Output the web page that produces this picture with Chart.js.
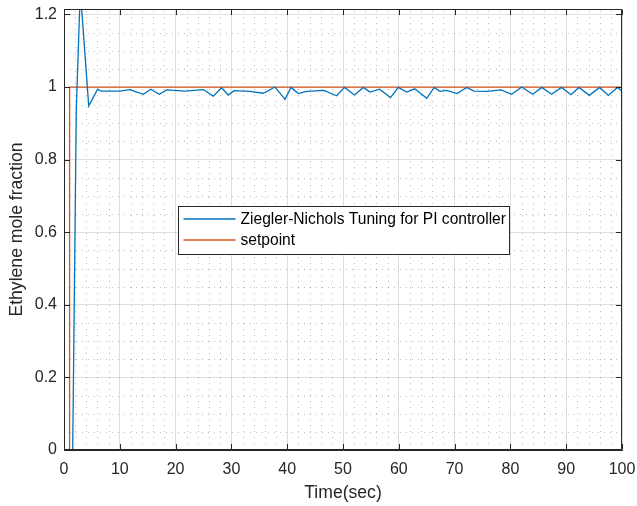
<!DOCTYPE html>
<html><head><meta charset="utf-8">
<script src="https://cdn.jsdelivr.net/npm/chart.js@4/dist/chart.umd.min.js"></script>
<style>html,body{margin:0;padding:0;background:#fff}#wrap{width:637px;height:506px;position:relative}</style>
</head><body><div id="wrap"><canvas id="c" width="637" height="506"></canvas></div>
<script>
const seriesNames = ['Ziegler-Nichols Tuning for PI controller', 'setpoint'];
const responseTime = [0, 1.56, 2.20, 2.92, 4.43, 6.04, 6.63, 10.04, 11.83, 14.21, 15.54, 17.08, 18.41, 21.68, 24.96, 26.76, 28.23, 29.44, 30.47, 33.33, 35.72, 37.81, 39.61, 40.68, 41.99, 43.49, 46.59, 48.87, 50.27, 52.06, 53.64, 54.84, 56.54, 58.51, 59.91, 61.42, 62.85, 65.0, 66.36, 67.38, 68.58, 70.43, 72.17, 73.48, 75.81, 78.32, 80.23, 82.03, 84.0, 85.61, 87.40, 89.16, 90.86, 92.29, 94.14, 96.0, 97.54, 99.19, 100];
const responseValue = [0, 0, 0.937, 1.267, 0.948, 0.994, 0.989, 0.989, 0.993, 0.980, 0.994, 0.980, 0.992, 0.989, 0.993, 0.975, 0.998, 0.978, 0.990, 0.988, 0.983, 1.000, 0.966, 0.999, 0.982, 0.988, 0.991, 0.976, 0.999, 0.978, 0.999, 0.986, 0.994, 0.971, 0.999, 0.986, 0.995, 0.969, 0.999, 0.988, 0.991, 0.982, 0.999, 0.989, 0.988, 0.992, 0.980, 1.000, 0.980, 0.999, 0.980, 0.999, 0.979, 0.999, 0.977, 0.999, 0.977, 0.999, 0.989];
const setpointTime = [0, 1, 1, 100];
const setpointValue = [0, 0, 1, 1];
const xTicks = [0, 10, 20, 30, 40, 50, 60, 70, 80, 90, 100];
const yTicks = [0, 0.2, 0.4, 0.6, 0.8, 1, 1.2];
const xTitle = 'Time(sec)';
const yTitle = 'Ethylene mole fraction';

const FONT = '"Liberation Sans", Arial, Helvetica, sans-serif';
const AX = '#262626';

function pts(t, v) { return t.map((x, i) => ({ x: x, y: v[i] })); }

const deco = {
  id: 'deco',
  beforeDatasetsDraw(chart) {
    const ctx = chart.ctx, a = chart.chartArea, sx = chart.scales.x, sy = chart.scales.y;
    ctx.save();
    ctx.strokeStyle = 'rgba(38,38,38,0.3)';
    ctx.lineWidth = 1;
    ctx.setLineDash([1, 5]);
    for (let i = 0; i <= 50; i++) {
      if (i % 5 === 0) continue;
      const px = Math.round(sx.getPixelForValue(i * 2)) + 0.5;
      ctx.beginPath(); ctx.moveTo(px, a.bottom); ctx.lineTo(px, a.top); ctx.stroke();
    }
    for (let i = 0; i <= 24; i++) {
      if (i % 4 === 0) continue;
      const py = Math.round(sy.getPixelForValue(i * 0.05)) + 0.5;
      ctx.beginPath(); ctx.moveTo(a.left, py); ctx.lineTo(a.right, py); ctx.stroke();
    }
    ctx.restore();
  },
  afterDatasetsDraw(chart) {
    const ctx = chart.ctx, a = chart.chartArea, sx = chart.scales.x, sy = chart.scales.y;
    ctx.save();
    ctx.strokeStyle = AX; ctx.lineWidth = 1; ctx.setLineDash([]);
    const L = Math.round(a.left) + 0.5, R = Math.round(a.right) - 0.5, T = Math.round(a.top) + 0.5, B = Math.round(a.bottom) - 0.5;
    ctx.beginPath();
    ctx.moveTo(L, T); ctx.lineTo(R, T); ctx.lineTo(R, B); ctx.lineTo(L, B); ctx.closePath();
    ctx.stroke();
    const tl = 5.6;
    xTicks.forEach(v => {
      const px = Math.round(sx.getPixelForValue(v)) + 0.5;
      ctx.beginPath(); ctx.moveTo(px, B); ctx.lineTo(px, B - tl); ctx.moveTo(px, T); ctx.lineTo(px, T + tl); ctx.stroke();
    });
    yTicks.forEach(v => {
      const py = Math.round(sy.getPixelForValue(v)) + 0.5;
      ctx.beginPath(); ctx.moveTo(L, py); ctx.lineTo(L + tl, py); ctx.moveTo(R, py); ctx.lineTo(R - tl, py); ctx.stroke();
    });
    ctx.restore();
  },
  afterDraw(chart) {
    const ctx = chart.ctx, a = chart.chartArea;
    const ds = chart.data.datasets;
    ctx.save();
    ctx.font = '15.6px ' + FONT;
    const tw = Math.max(...ds.map(d => ctx.measureText(d.label).width));
    const x0 = Math.round(a.left + 114) + 0.5, y0 = Math.round(a.top + 197) + 0.5;
    const w = Math.round(62 + tw + 4), h = 48;
    ctx.fillStyle = '#fff'; ctx.fillRect(x0, y0, w, h);
    ctx.strokeStyle = AX; ctx.lineWidth = 1; ctx.strokeRect(x0, y0, w, h);
    ds.forEach((d, i) => {
      const y = y0 + 12.5 + i * 21;
      ctx.strokeStyle = d.borderColor; ctx.lineWidth = d.borderWidth;
      ctx.beginPath(); ctx.moveTo(x0 + 5, y); ctx.lineTo(x0 + 57, y); ctx.stroke();
      ctx.fillStyle = '#000'; ctx.textBaseline = 'middle'; ctx.textAlign = 'left';
      ctx.fillText(d.label, x0 + 62, y + 0.5);
    });
    ctx.restore();
  }
};

new Chart(document.getElementById('c'), {
  type: 'line',
  data: {
    datasets: [
      { label: seriesNames[0], data: pts(responseTime, responseValue), borderColor: '#0072BD', borderWidth: 1.3, pointRadius: 0, tension: 0, fill: false, clip: 0 },
      { label: seriesNames[1], data: pts(setpointTime, setpointValue), borderColor: '#D95319', borderWidth: 1.3, pointRadius: 0, tension: 0, fill: false, clip: 0 }
    ]
  },
  options: {
    responsive: false,
    devicePixelRatio: 1,
    animation: false,
    layout: { padding: { top: 9, right: 15, left: 0, bottom: 0 } },
    plugins: { legend: { display: false }, tooltip: { enabled: false } },
    scales: {
      x: {
        type: 'linear', min: 0, max: 100,
        afterBuildTicks: s => { s.ticks = xTicks.map(v => ({ value: v })); },
        afterFit: s => { s.height = 56; s.paddingLeft = 0; s.paddingRight = 0; },
        grid: { color: 'rgba(38,38,38,0.15)', lineWidth: 1, drawTicks: false },
        border: { color: AX, width: 1 },
        ticks: { padding: 10, color: AX, font: { family: FONT, size: 16 }, maxRotation: 0, callback: v => String(v) },
        title: { display: true, text: xTitle, color: AX, font: { family: FONT, size: 17.6 }, padding: { top: 0, bottom: 2.5 } }
      },
      y: {
        type: 'linear', min: 0, max: 1.215,
        afterBuildTicks: s => { s.ticks = yTicks.map(v => ({ value: v })); },
        afterFit: s => { s.width = 64; s.paddingTop = 0; s.paddingBottom = 0; },
        grid: { color: 'rgba(38,38,38,0.15)', lineWidth: 1, drawTicks: false },
        border: { color: AX, width: 1 },
        ticks: { padding: 7, color: AX, font: { family: FONT, size: 16 }, callback: v => String(v) },
        title: { display: true, text: yTitle, color: AX, font: { family: FONT, size: 17.6 }, padding: { top: 6.5, bottom: 0 } }
      }
    }
  },
  plugins: [deco]
});
</script></body></html>
